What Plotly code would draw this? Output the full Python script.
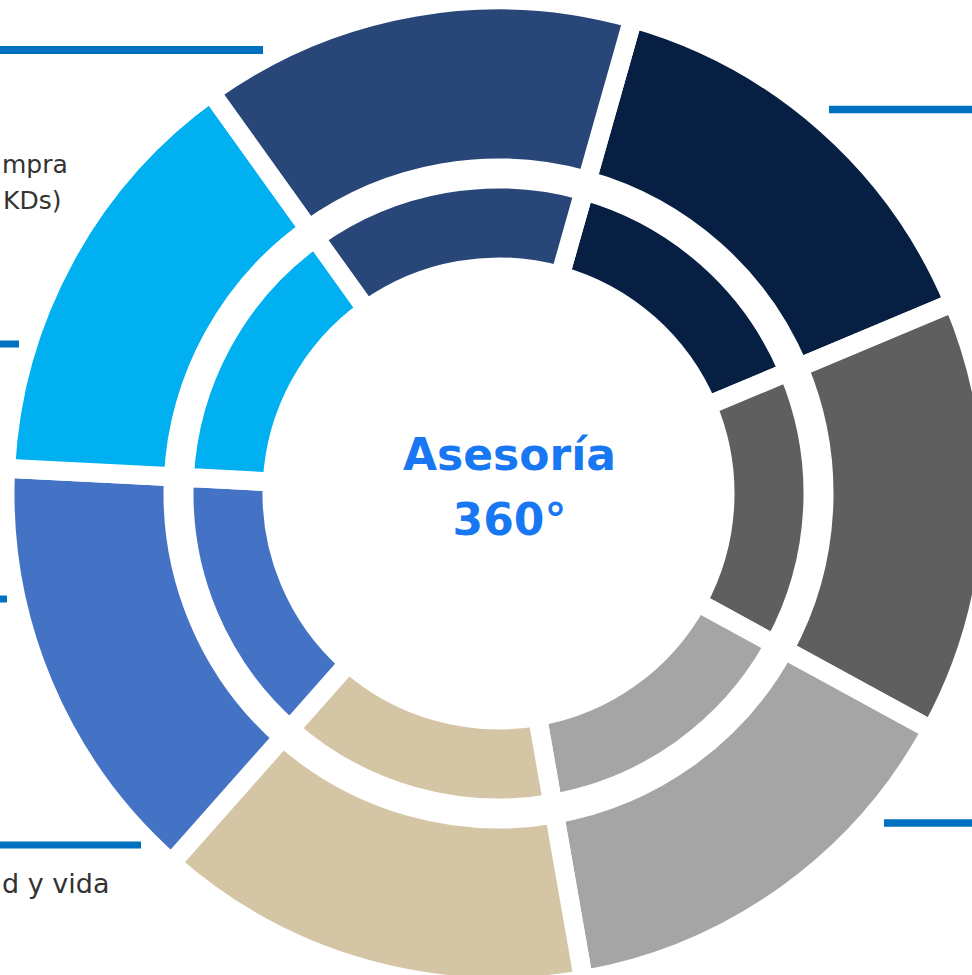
import plotly.graph_objects as go

# ---- data ----
categories = [
    "Estructuración fiscal",
    "Cumplimiento normativo",
    "Gestión de riesgos",
    "Patrimonio y sucesiones",
    "Seguros de salud y vida",
    "Procesos de compra (KDs)",
    "Planificación financiera",
]
outer_values = [1, 1, 1, 1, 1, 1, 1]
inner_values = [1, 1, 1, 1, 1, 1, 1]
colors = ["#061F42", "#5F5F5F", "#A5A5A5", "#D4C6A5", "#4472C4", "#00B0F0", "#284677"]

center_title = ["Asesoría", "360°"]
# the parts of the side labels that are visible in the cropped view
side_labels = ["mpra", "KDs)", "d y vida"]

# ---- layout geometry (pixels) ----
W, H = 997, 987
CX, CY = 498.5, 493.5
GAP = 19


def px(x):
    return x / W


def py(y):
    return 1 - y / H


R_outer = min(W, H) / 2
R_inner = 314.5

fig = go.Figure()
fig.add_trace(go.Pie(
    labels=categories, values=outer_values, sort=False, direction="clockwise",
    rotation=15.8, hole=325.5 / R_outer,
    marker=dict(colors=colors, line=dict(color="white", width=GAP)),
    textinfo="none", hoverinfo="label", showlegend=False,
    domain=dict(x=[px(CX - R_outer), px(CX + R_outer)], y=[py(CY + R_outer), py(CY - R_outer)]),
))
fig.add_trace(go.Pie(
    labels=categories, values=inner_values, sort=False, direction="clockwise",
    rotation=15.8, hole=226.5 / R_inner,
    marker=dict(colors=colors, line=dict(color="white", width=GAP)),
    textinfo="none", hoverinfo="label", showlegend=False,
    domain=dict(x=[px(CX - R_inner), px(CX + R_inner)], y=[py(CY + R_inner), py(CY - R_inner)]),
))

# centre title as text marks on a hidden pixel-scaled axis
fig.add_trace(go.Scatter(
    x=[CX + 11, CX + 11], y=[459, 524],
    text=["<b>%s</b>" % t for t in center_title],
    mode="text", textposition="middle center",
    textfont=dict(family="DejaVu Sans", size=44, color="#1877F2"),
    hoverinfo="skip", showlegend=False,
))

annotations = [
    dict(text=side_labels[0], x=px(0), y=py(165), xref="paper", yref="paper", showarrow=False,
         xanchor="left", yanchor="middle",
         font=dict(family="DejaVu Sans", size=25, color="#333333")),
    dict(text=side_labels[1], x=px(1), y=py(200), xref="paper", yref="paper", showarrow=False,
         xanchor="left", yanchor="middle",
         font=dict(family="DejaVu Sans", size=25, color="#333333")),
    dict(text=side_labels[2], x=px(0), y=py(883), xref="paper", yref="paper", showarrow=False,
         xanchor="left", yanchor="middle",
         font=dict(family="DejaVu Sans", size=27, color="#333333")),
]

line_color = "#0070C0"
segments = [  # (x0, x1, y, width) in pixels
    (-20, 263, 50, 8),
    (829, 1000, 109.5, 7.5),
    (-20, 19, 344, 7),
    (-20, 7, 599, 7),
    (-20, 141, 845, 7),
    (884, 1000, 823, 7.5),
]
shapes = [
    dict(type="line", xref="paper", yref="paper", x0=px(a), x1=px(b), y0=py(y), y1=py(y),
         line=dict(color=line_color, width=w))
    for a, b, y, w in segments
]

fig.update_layout(
    width=W, height=H, margin=dict(l=0, r=0, t=0, b=0),
    paper_bgcolor="white", plot_bgcolor="white",
    xaxis=dict(range=[0, W], visible=False, fixedrange=True, domain=[0, 1]),
    yaxis=dict(range=[H, 0], visible=False, fixedrange=True, domain=[0, 1]),
    annotations=annotations, shapes=shapes, showlegend=False,
)
fig.write_html(
    "out.html",
    config={"displayModeBar": False, "responsive": False},
    post_script="document.body.style.margin='0';",
)
